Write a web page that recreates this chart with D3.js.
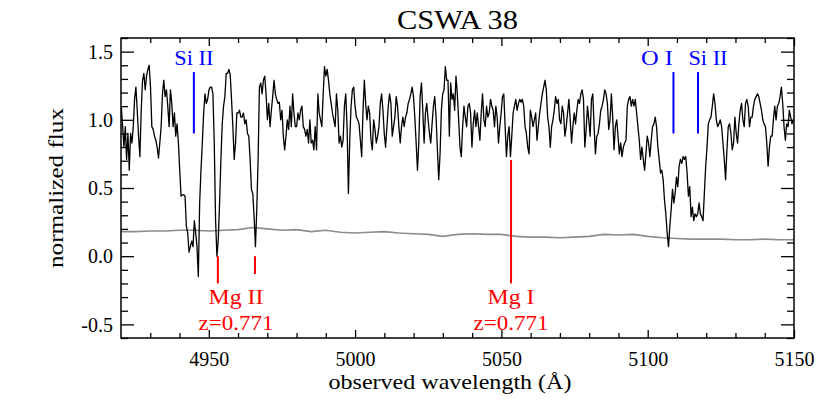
<!DOCTYPE html>
<html>
<head>
<meta charset="utf-8">
<script src="https://cdn.jsdelivr.net/npm/d3@7"></script>
<style>
  html, body { margin: 0; padding: 0; background: #fff; }
  svg { display: block; }
  text { font-family: "Liberation Serif", "Times New Roman", serif; }
</style>
</head>
<body>
<svg id="chart" width="830" height="415"></svg>
<script>
// ---------------- data ----------------
const title = "CSWA 38";
const xLabel = "observed wavelength (Å)";
const yLabel = "normalized flux";

// spectrum sampled on a uniform wavelength grid
const waveStart = 4920.1;
const waveStep = 0.4539;
const flux = [
  1.10,0.95,0.80,0.95,0.71,0.90,0.63,0.90,0.83,0.95,
  1.15,1.24,1.07,0.88,0.73,1.07,1.29,1.34,1.22,1.32,
  1.37,1.40,1.24,0.95,0.93,0.88,0.85,0.80,0.72,0.83,
  0.95,1.19,1.29,1.17,1.22,1.10,0.95,1.22,1.12,0.95,
  1.05,0.88,0.97,0.83,0.63,0.44,0.45,0.45,0.44,0.22,
  0.17,0.03,0.07,0.11,0.07,0.26,0.17,0.07,-0.15,0.39,
  0.63,0.83,1.05,1.19,1.12,1.15,1.22,1.24,1.24,1.19,
  0.83,0.26,0.00,0.12,0.39,0.71,0.97,1.10,1.17,1.34,

  1.34,1.37,1.33,1.15,0.95,0.71,0.83,1.05,1.05,1.07,
  1.02,1.02,1.05,0.97,1.00,0.90,0.88,0.71,0.49,0.46,
  0.29,0.07,0.34,0.71,1.24,1.27,1.19,1.29,1.32,1.19,
  1.00,1.12,0.95,1.07,1.17,1.29,1.19,1.15,1.12,1.13,
  1.00,1.07,0.88,0.78,0.88,1.00,0.93,1.10,0.95,1.19,
  1.05,0.95,0.95,1.05,1.00,1.07,1.10,0.95,0.93,0.88,
  0.93,0.83,1.00,0.83,0.85,0.78,0.95,0.78,1.19,1.05,
  1.00,0.95,1.19,1.39,1.32,1.37,1.29,1.19,1.12,1.05,
  1.00,0.95,1.19,

  1.07,0.83,0.88,0.80,0.85,1.10,1.19,0.95,0.46,0.85,
  1.10,1.22,1.24,1.10,1.02,1.00,0.97,0.85,0.73,1.07,
  1.29,1.12,1.00,1.10,1.05,0.85,0.78,1.00,0.93,0.83,
  0.88,0.95,1.12,1.19,1.07,0.90,0.80,0.95,1.10,1.19,
  1.12,0.88,0.95,1.02,1.17,1.10,0.95,0.83,0.95,1.02,
  0.95,1.02,1.05,1.12,1.15,1.19,1.24,1.17,1.02,0.83,
  0.63,0.83,1.17,1.27,1.07,0.83,1.05,1.12,1.00,0.90,
  0.83,0.97,1.10,1.17,1.02,0.78,0.56,0.75,1.07,1.19,
  1.22,1.39,1.29,

  1.29,0.88,1.27,1.15,1.19,1.07,1.32,1.19,1.00,0.80,
  0.73,0.95,1.10,1.02,0.95,1.10,1.12,1.05,0.80,0.97,
  1.07,0.95,1.05,0.95,0.85,1.05,1.19,1.00,0.95,1.10,
  1.02,1.05,1.15,1.10,1.07,0.95,1.10,1.02,0.83,0.95,
  1.05,1.17,1.19,0.95,0.73,0.88,0.95,0.73,0.88,1.05,
  1.10,1.15,1.07,1.12,1.15,1.13,1.15,1.10,0.95,0.90,
  0.80,0.75,1.07,1.02,0.95,1.00,1.05,0.85,0.95,1.05,
  1.12,1.19,1.24,1.29,1.22,1.02,0.95,0.80,0.95,1.00,
  1.07,1.17,1.12,

  1.15,1.00,0.97,1.10,1.05,0.88,0.95,1.05,1.15,1.00,
  0.83,0.95,1.05,0.97,1.07,1.15,1.12,1.19,1.22,1.15,
  0.80,0.93,1.10,1.00,0.88,1.15,1.19,0.95,0.75,0.88,
  0.90,0.97,1.07,1.10,1.15,1.22,1.19,1.12,0.93,1.00,
  1.19,1.02,0.78,0.95,1.00,0.88,0.75,0.83,0.73,0.80,
  0.83,0.85,1.10,1.15,1.17,1.10,1.15,1.10,1.15,1.05,
  0.95,0.85,0.71,0.80,0.71,0.63,0.75,0.88,0.83,0.73,
  0.85,0.95,0.97,1.02,0.95,0.80,0.71,0.61,0.63,0.56,
  0.41,0.31,0.17,

  0.07,0.22,0.34,0.49,0.39,0.46,0.58,0.51,0.66,0.71,
  0.68,0.73,0.71,0.73,0.61,0.44,0.51,0.29,0.36,0.26,
  0.31,0.29,0.31,0.39,0.31,0.29,0.26,0.46,0.66,0.80,
  0.97,1.00,1.02,1.10,1.19,1.12,1.00,0.95,0.97,1.00,
  0.95,0.83,0.71,0.56,0.78,0.95,0.97,0.90,0.78,0.83,
  1.02,0.90,0.83,0.97,1.07,1.12,1.00,0.95,1.12,1.15,
  1.10,0.95,1.02,1.02,1.10,1.15,1.17,1.19,1.17,1.12,
  1.07,1.00,0.97,0.95,0.83,0.66,0.80,0.88,0.88,1.00,
  1.10,1.00,1.10,1.12,1.17,1.24,1.12,0.95,0.85,0.97,
  0.95,1.07,1.02,0.97,1.00
];
const wavelength = flux.map((_, i) => waveStart + i * waveStep);

// error spectrum
const errWave = [4920,4925,4930,4935,4940,4945,4950,4955,4960,4965,4970,4975,4980,4985,4990,4995,
  5000,5005,5010,5015,5020,5025,5030,5035,5040,5045,5050,5055,5060,5065,5070,5075,5080,5085,5090,
  5095,5100,5105,5110,5115,5120,5125,5130,5135,5140,5145,5150];
const errFlux = [0.18,0.18,0.185,0.185,0.19,0.19,0.185,0.19,0.195,0.21,0.20,0.19,0.195,0.18,0.19,0.175,
  0.17,0.175,0.18,0.17,0.165,0.16,0.145,0.16,0.165,0.16,0.16,0.145,0.14,0.14,0.135,0.14,0.145,0.16,0.155,
  0.16,0.145,0.135,0.13,0.125,0.125,0.125,0.12,0.12,0.125,0.12,0.12];

// line identifications
const blueLines = [
  {wave: 4944.9, top: 1.35, bottom: 0.90},
  {wave: 5108.8, top: 1.35, bottom: 0.90},
  {wave: 5117.2, top: 1.35, bottom: 0.90}
];
const blueLabels = [
  {text: "Si II", wave: 4944.9, width: 39},
  {text: "O I", wave: 5103.2, width: 32},
  {text: "Si II", wave: 5120.6, width: 39}
];
const redLines = [
  {wave: 4953.1, top: 0.0, bottom: -0.20},
  {wave: 4965.8, top: 0.0, bottom: -0.13},
  {wave: 5053.3, top: 0.705, bottom: -0.20}
];
const redLabels = [
  {text: "Mg II", wave: 4959.3, row: 0, width: 55},
  {text: "z=0.771", wave: 4959.3, row: 1, width: 75},
  {text: "Mg I", wave: 5053.3, row: 0, width: 47},
  {text: "z=0.771", wave: 5053.3, row: 1, width: 75}
];

const xMajor = [4950, 5000, 5050, 5100, 5150];
const yMajor = [-0.5, 0.0, 0.5, 1.0, 1.5];
const yTickLabels = ["-0.5", "0.0", "0.5", "1.0", "1.5"];

// ---------------- layout ----------------
const W = 830, H = 415;
const margin = {left: 121, right: 36, top: 38, bottom: 77};
const x = d3.scaleLinear().domain([4920, 5150]).range([margin.left, W - margin.right]);
const y = d3.scaleLinear().domain([-0.6, 1.6]).range([H - margin.bottom, margin.top]);

const svg = d3.select("#chart");

svg.append("defs").append("clipPath").attr("id", "clip")
  .append("rect").attr("x", x.range()[0]).attr("y", y.range()[1])
  .attr("width", x.range()[1] - x.range()[0]).attr("height", y.range()[0] - y.range()[1]);

const plot = svg.append("g").attr("clip-path", "url(#clip)");

// error spectrum
plot.append("path")
  .datum(errWave.map((w, i) => [w, errFlux[i]]))
  .attr("fill", "none").attr("stroke", "#8c8c8c").attr("stroke-width", 1.6)
  .attr("d", d3.line().x(d => x(d[0])).y(d => y(d[1])));

// spectrum
plot.append("path")
  .datum(wavelength.map((w, i) => [w, flux[i]]))
  .attr("fill", "none").attr("stroke", "#000").attr("stroke-width", 1.3)
  .attr("stroke-linejoin", "round")
  .attr("d", d3.line().x(d => x(d[0])).y(d => y(d[1])));

// identification lines
svg.selectAll("line.blue").data(blueLines).enter().append("line")
  .attr("x1", d => x(d.wave)).attr("x2", d => x(d.wave))
  .attr("y1", d => y(d.top)).attr("y2", d => y(d.bottom))
  .attr("stroke", "#0000ff").attr("stroke-width", 2);
svg.selectAll("line.red").data(redLines).enter().append("line")
  .attr("x1", d => x(d.wave)).attr("x2", d => x(d.wave))
  .attr("y1", d => y(d.top)).attr("y2", d => y(d.bottom))
  .attr("stroke", "#ff0000").attr("stroke-width", 2);

svg.selectAll("text.blue").data(blueLabels).enter().append("text")
  .attr("x", d => x(d.wave)).attr("y", 65)
  .attr("text-anchor", "middle").attr("font-size", 20).attr("fill", "#0000ff")
  .attr("textLength", d => d.width).attr("lengthAdjust", "spacingAndGlyphs")
  .text(d => d.text);
svg.selectAll("text.red").data(redLabels).enter().append("text")
  .attr("x", d => x(d.wave)).attr("y", d => d.row === 0 ? 304 : 330)
  .attr("text-anchor", "middle").attr("font-size", 20).attr("fill", "#ff0000")
  .attr("textLength", d => d.width).attr("lengthAdjust", "spacingAndGlyphs")
  .text(d => d.text);

// ---------------- axes (ticks on all four sides) ----------------
const xMinor = d3.range(4930, 5151, 10).filter(v => !xMajor.includes(v));
const yMinor = d3.range(-6, 17).map(v => v / 10).filter(v => Math.abs(v * 2 - Math.round(v * 2)) > 1e-6);

function axisGroup(axis, tx, ty) {
  const g = svg.append("g").attr("transform", `translate(${tx},${ty})`).call(axis);
  g.select(".domain").remove();
  g.selectAll(".tick line").attr("stroke", "#000").attr("stroke-width", 1.3);
  return g;
}
const xB = y.range()[0], xT = y.range()[1], yL = x.range()[0], yR = x.range()[1];

axisGroup(d3.axisBottom(x).tickValues(xMinor).tickSize(-5).tickFormat(""), 0, xB);
axisGroup(d3.axisTop(x).tickValues(xMinor).tickSize(-5).tickFormat(""), 0, xT);
axisGroup(d3.axisTop(x).tickValues(xMajor).tickSize(-8).tickFormat(""), 0, xT);
const xAx = axisGroup(d3.axisBottom(x).tickValues(xMajor).tickSize(-8).tickPadding(0)
  .tickFormat(d3.format("d")), 0, xB);
xAx.selectAll(".tick text").attr("y", 28).attr("dy", null)
  .attr("font-family", "Liberation Serif").attr("font-size", 20).attr("fill", "#000");

axisGroup(d3.axisLeft(y).tickValues(yMinor).tickSize(-7).tickFormat(""), yL, 0);
axisGroup(d3.axisRight(y).tickValues(yMinor).tickSize(-7).tickFormat(""), yR, 0);
axisGroup(d3.axisRight(y).tickValues(yMajor).tickSize(-13).tickFormat(""), yR, 0);
const yAx = axisGroup(d3.axisLeft(y).tickValues(yMajor).tickSize(-13)
  .tickFormat((d, i) => yTickLabels[i]), yL, 0);
yAx.selectAll(".tick text").attr("x", -8).attr("dy", "0.34em")
  .attr("font-family", "Liberation Serif").attr("font-size", 20).attr("fill", "#000");

// frame
svg.append("rect")
  .attr("x", yL).attr("y", xT).attr("width", yR - yL).attr("height", xB - xT)
  .attr("fill", "none").attr("stroke", "#000").attr("stroke-width", 1.5);

// titles
svg.append("text").attr("x", (yL + yR) / 2).attr("y", 29)
  .attr("text-anchor", "middle").attr("font-size", 27).attr("fill", "#000")
  .attr("textLength", 121).attr("lengthAdjust", "spacingAndGlyphs")
  .text(title);
svg.append("text").attr("x", 450).attr("y", 389)
  .attr("text-anchor", "middle").attr("font-size", 21).attr("fill", "#000")
  .attr("textLength", 243).attr("lengthAdjust", "spacingAndGlyphs")
  .text(xLabel);
svg.append("text")
  .attr("transform", `translate(63,${(xT + xB) / 2}) rotate(-90)`)
  .attr("text-anchor", "middle").attr("font-size", 21).attr("fill", "#000")
  .attr("textLength", 160).attr("lengthAdjust", "spacingAndGlyphs")
  .text(yLabel);
</script>
</body>
</html>
